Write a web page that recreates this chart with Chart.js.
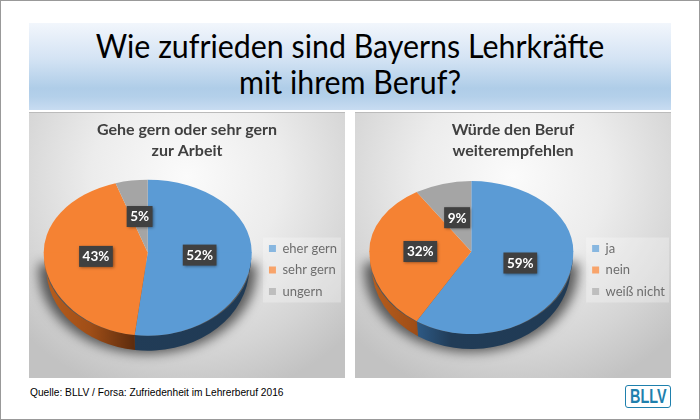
<!DOCTYPE html>
<html><head><meta charset="utf-8">
<script src="https://cdn.jsdelivr.net/npm/chart.js@4"></script>
<style>
html,body{margin:0;padding:0;background:#fff}
#frame{position:absolute;left:0;top:0;width:698px;height:418px;border:1px solid #999;background:#fff;overflow:hidden}
#head{position:absolute;left:28px;top:22px;width:642px;height:87px;background:linear-gradient(#f2f6fc 0%,#d5e4f4 40%,#afcde8 75%,#b4d0ea 85%,#c8dcf1 100%);text-align:center;font:33px/36px Lato,sans-serif;color:#000}
#head div{padding-top:4px;transform:scaleX(.92)}
.panel{position:absolute;top:111px;width:316px;height:266px;background:radial-gradient(ellipse 72% 85% at 50% 24%,#fbfbfb 0%,#ececec 42%,#d4d4d4 78%,#c2c2c2 100%);border-top:1px solid #bbb;box-sizing:border-box}
.panel canvas{position:absolute;left:0;top:-1px}
#p1{left:28px}#p2{left:354px}
#src{position:absolute;left:29px;top:386px;font:10.2px/12px "Liberation Sans",sans-serif;color:#000}
#logo{position:absolute;left:624px;top:384px;width:44px;height:21px;border:1.5px solid #1f80ad;border-radius:3px;color:#1f80ad;font:bold 20px/21px "Liberation Sans",sans-serif;text-align:center;overflow:hidden}
#logo span{display:inline-block;transform:scaleX(.72);transform-origin:50% 50%;margin:0 -6px}
</style></head><body>
<div id="frame">
<div id="head"><div>Wie zufrieden sind Bayerns Lehrkräfte<br>mit ihrem Beruf?</div></div>
<div class="panel" id="p1"><canvas id="c1" width="316" height="266"></canvas></div>
<div class="panel" id="p2"><canvas id="c2" width="316" height="266"></canvas></div>
<div id="src">Quelle: BLLV / Forsa: Zufriedenheit im Lehrerberuf 2016</div>
<div id="logo"><span>BLLV</span></div>
</div>
<script>
const leftTitle = ["Gehe gern oder sehr gern", "zur Arbeit"];
const leftCategories = ["eher gern", "sehr gern", "ungern"];
const leftValues = [52, 43, 5];
const rightTitle = ["Würde den Beruf", "weiterempfehlen"];
const rightCategories = ["ja", "nein", "weiß nicht"];
const rightValues = [59, 32, 9];
const sliceColors = ["#5B9BD5", "#F58233", "#A5A5A5"];

const wallStops = [
  [[0.2,"#2f5f8e"],[0.4,"#213c57"],[1,"#203a54"]],
  [[0,"#b85e1d"],[0.22,"#a04e17"],[0.43,"#5f2d0e"],[1,"#5f2d0e"]],
  [[0,"#6b6b6b"],[1,"#555555"]]
];

const pie3d = {
  id:"pie3d",
  afterLayout(chart,args,o){
    const l = chart.legend, t = chart.titleBlock;
    l.left += o.legendDx; l.right += o.legendDx;
    l.top += o.legendDy; l.bottom += o.legendDy;
    t.left += o.titleDx; t.right += o.titleDx;
  },
  beforeDatasetsDraw(chart,args,o){
    const ctx = chart.ctx, arcs = chart.getDatasetMeta(0).data, vals = chart.data.datasets[0].data;
    const c = arcs[0], R = c.outerRadius, cx = c.x, cy = c.y;
    const rx = R, up = R*o.squashUp, down = R*o.squashDown, d = o.depth;
    const l = chart.legend, pad = l.options.labels.padding;
    const mid = (l.top+l.bottom)/2;
    ctx.save();
    ctx.fillStyle = "rgba(255,255,255,0.28)";
    ctx.fillRect(l.left+pad-6, mid-32.5, l.columnSizes[0].width+10, 65);
    // soft shadow only: the casting shape sits off the canvas
    const far = 2000;
    ctx.save();
    ctx.shadowColor = "rgba(0,0,0,0.6)";
    ctx.shadowBlur = 12;
    ctx.shadowOffsetX = far;
    ctx.shadowOffsetY = 3;
    ctx.fillStyle = "#000";
    ctx.beginPath();
    ctx.ellipse(cx-far,cy+d,rx+5,down,0,0,Math.PI);
    ctx.lineTo(cx-far-rx-5,cy+8);ctx.lineTo(cx-far+rx+5,cy+8);
    ctx.closePath();ctx.fill();
    ctx.restore();
    // side wall
    arcs.forEach((el,i)=>{
      const a = Math.max(el.startAngle,0), b = Math.min(el.endAngle,Math.PI);
      if(a>=b) return;
      const g = ctx.createLinearGradient(cx-rx,0,cx+rx,0);
      wallStops[i].forEach(s=>g.addColorStop(s[0],s[1]));
      ctx.fillStyle = g;
      ctx.beginPath();
      ctx.ellipse(cx,cy+5,rx-0.5,down-5,0,a,b);
      ctx.ellipse(cx,cy+d,rx-2.5,down,0,b,a,true);
      ctx.closePath();ctx.fill();
    });
    // top face, each half with its own perspective
    [[-1,up],[1,down]].forEach(([side,ry])=>{
      ctx.save();
      ctx.beginPath();
      if(side<0) ctx.rect(0,0,chart.width,cy+0.5); else ctx.rect(0,cy,chart.width,chart.height-cy);
      ctx.clip();
      ctx.translate(cx,cy);ctx.scale(rx/R,ry/R);ctx.translate(-cx,-cy);
      arcs.forEach(el=>el.draw(ctx));
      ctx.restore();
    });
    // value labels
    ctx.font = "bold 13.5px Lato, sans-serif";
    ctx.textAlign = "center"; ctx.textBaseline = "middle";
    arcs.forEach((el,i)=>{
      const m = (el.startAngle+el.endAngle)/2;
      const s = Math.sin(m)<0 ? o.squashUp : o.squashDown;
      const x = el.x+Math.cos(m)*R*0.5, y = el.y+Math.sin(m)*R*s*0.5;
      const t = vals[i]+"%", w = ctx.measureText(t).width+7, h = 21;
      ctx.save();
      ctx.shadowColor="rgba(0,0,0,0.45)";ctx.shadowBlur=3;ctx.shadowOffsetX=1;ctx.shadowOffsetY=1;
      ctx.fillStyle="#404040";
      ctx.fillRect(x-w/2,y-h/2,w,h);
      ctx.restore();
      ctx.fillStyle="#fff";
      ctx.fillText(t,x,y+0.5);
    });
    ctx.restore();
    return false;
  }
};

function makePie(id,title,cats,vals,radius,opts,pad){
  return new Chart(document.getElementById(id),{
    type:"pie",
    data:{labels:cats,datasets:[{data:vals,backgroundColor:sliceColors,borderWidth:0,radius:radius}]},
    plugins:[pie3d],
    options:{
      responsive:false,animation:false,
      devicePixelRatio:1,
      layout:{padding:pad},
      plugins:{
        tooltip:{enabled:false},
        pie3d:opts,
        title:{display:true,text:title,color:"#404040",font:{family:"Lato",size:16,weight:"bold",lineHeight:1.28},padding:{top:8,bottom:0}},
        legend:{display:true,position:"right",labels:{boxWidth:7,boxHeight:7,padding:8.5,color:"#333333",font:{family:"Lato",size:13}}}
      }
    }
  });
}
makePie("c1",leftTitle,leftCategories,leftValues,104,{squashUp:0.70,squashDown:0.80,depth:15,legendDx:2,legendDy:42,titleDx:-4},{left:8,right:0,top:0,bottom:34});
makePie("c2",rightTitle,rightCategories,rightValues,102,{squashUp:0.69,squashDown:0.81,depth:15,legendDx:4,legendDy:43,titleDx:-4},{left:8,right:0,top:0,bottom:36});
</script>
</body></html>
